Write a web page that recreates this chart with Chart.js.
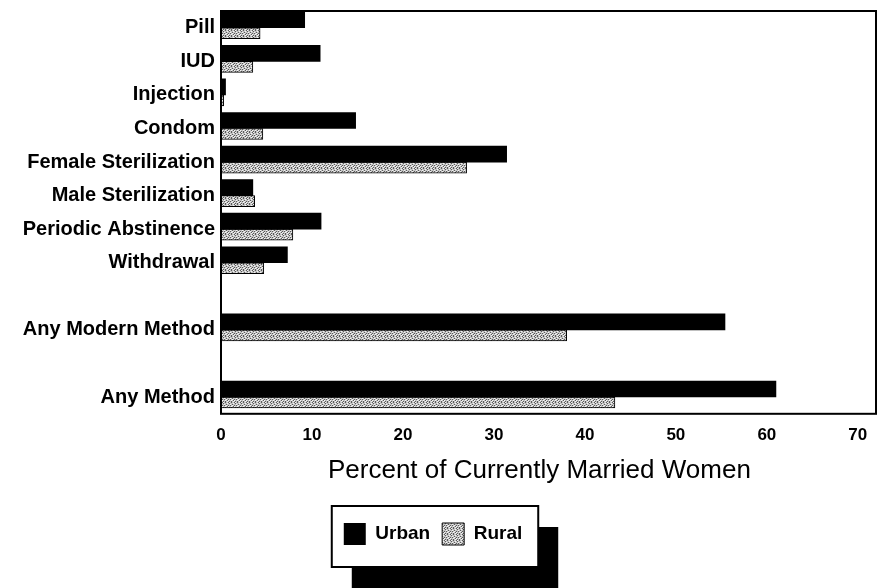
<!DOCTYPE html>
<html><head><meta charset="utf-8">
<script src="https://cdn.jsdelivr.net/npm/chart.js@4.4.1/dist/chart.umd.min.js"></script>
<style>html,body{margin:0;padding:0;background:#fff;} canvas{display:block;}</style>
</head><body>
<canvas id="c" width="887" height="588"></canvas>
<script>
const categories = ['Pill', 'IUD', 'Injection', 'Condom', 'Female Sterilization', 'Male Sterilization',
  'Periodic Abstinence', 'Withdrawal', '', 'Any Modern Method', '', 'Any Method'];
const urban = [9.2, 10.9, 0.5, 14.8, 31.4, 3.5, 11.0, 7.3, null, 55.4, null, 61.0];
const rural = [4.3, 3.5, 0.3, 4.6, 27.0, 3.7, 7.9, 4.7, null, 38.0, null, 43.3];
const seriesNames = ['Urban', 'Rural'];
const xTicks = [0, 10, 20, 30, 40, 50, 60, 70];
const xMax = 72;
const axisTitle = 'Percent of Currently Married Women';

Chart.defaults.font.family = '"Liberation Sans", Arial, Helvetica, sans-serif';
Chart.defaults.color = '#000';

const canvas = document.getElementById('c');
const ctx = canvas.getContext('2d');

function stipple() {
  const t = document.createElement('canvas');
  t.width = 6; t.height = 6;
  const g = t.getContext('2d');
  g.fillStyle = '#c4c4c4'; g.fillRect(0, 0, 6, 6);
  g.fillStyle = '#5a5a5a';
  [[0,0],[3,0],[1,1],[4,2],[0,3],[2,3],[5,4],[1,5],[3,5]].forEach(p => g.fillRect(p[0], p[1], 1, 1));
  g.fillStyle = '#f4f4f4';
  [[1,0],[5,1],[2,2],[4,3],[0,4],[3,4],[5,5]].forEach(p => g.fillRect(p[0], p[1], 1, 1));
  return ctx.createPattern(t, 'repeat');
}

const placeBlocks = {
  id: 'placeBlocks',
  afterLayout(chart) {
    const xs = chart.scales.x;
    const tb = chart.titleBlock;
    if (tb) {
      tb.left = xs.getPixelForValue(xTicks[0]);
      tb.right = xs.getPixelForValue(xTicks[xTicks.length - 1]);
    }
    const lg = chart.legend;
    if (lg) { lg.left -= 5; lg.right -= 5; }
  }
};

const legendFrame = {
  id: 'legendFrame',
  beforeDraw(chart) {
    const lg = chart.legend;
    if (!lg || !lg.legendHitBoxes || !lg.legendHitBoxes.length) return;
    const hb = lg.legendHitBoxes;
    const last = hb[hb.length - 1];
    const l = hb[0].left - 12, r = last.left + last.width + 16;
    const t = hb[0].top - 17, b = hb[0].top + hb[0].height + 22;
    const c = chart.ctx;
    c.save();
    c.fillStyle = '#000'; c.fillRect(l + 20, t + 21, r - l, b - t);
    c.fillStyle = '#fff'; c.fillRect(l, t, r - l, b - t);
    c.strokeStyle = '#000'; c.lineWidth = 2; c.strokeRect(l, t, r - l, b - t);
    c.restore();
  }
};

const plotFrame = {
  id: 'plotFrame',
  afterDraw(chart) {
    const a = chart.chartArea, c = chart.ctx;
    c.save();
    c.strokeStyle = '#000'; c.lineWidth = 2;
    c.strokeRect(a.left, a.top, a.right - a.left, a.bottom - a.top);
    c.restore();
  }
};

new Chart(ctx, {
  type: 'bar',
  data: {
    labels: categories,
    datasets: [
      { label: seriesNames[0], data: urban, backgroundColor: '#000', borderColor: '#000', borderWidth: 0, barThickness: 16 },
      { label: seriesNames[1], data: rural, backgroundColor: stipple(), borderColor: '#000', borderWidth: 1, barThickness: 11 }
    ]
  },
  options: {
    indexAxis: 'y',
    responsive: false,
    animation: false,
    layout: { padding: { top: 11, right: 11, bottom: 33, left: 0 } },
    scales: {
      x: {
        min: 0, max: xMax,
        afterBuildTicks: s => { s.ticks = xTicks.map(v => ({ value: v })); },
        afterFit: s => { s.height = 34; },
        grid: { display: false, drawTicks: false },
        border: { display: false },
        ticks: { padding: 11, font: { size: 17, weight: 'bold' }, color: '#000' }
      },
      y: {
        afterFit: s => { s.width = 221; s.paddingTop = 0; s.paddingBottom = 0; },
        grid: { display: false, drawTicks: false },
        border: { display: false },
        ticks: { padding: 6, autoSkip: false, font: { size: 20, weight: 'bold', lineHeight: 0.5 }, color: '#000' }
      }
    },
    plugins: {
      legend: {
        position: 'bottom',
        labels: { boxWidth: 22, boxHeight: 22, padding: 12, font: { size: 19, weight: 'bold' }, color: '#000' }
      },
      title: {
        display: true, text: axisTitle, position: 'bottom', weight: 500,
        padding: { top: 7, bottom: 25 }, font: { size: 26, weight: 'normal' }, color: '#000'
      },
      tooltip: { enabled: false }
    }
  },
  plugins: [placeBlocks, legendFrame, plotFrame]
});
</script>
</body></html>
